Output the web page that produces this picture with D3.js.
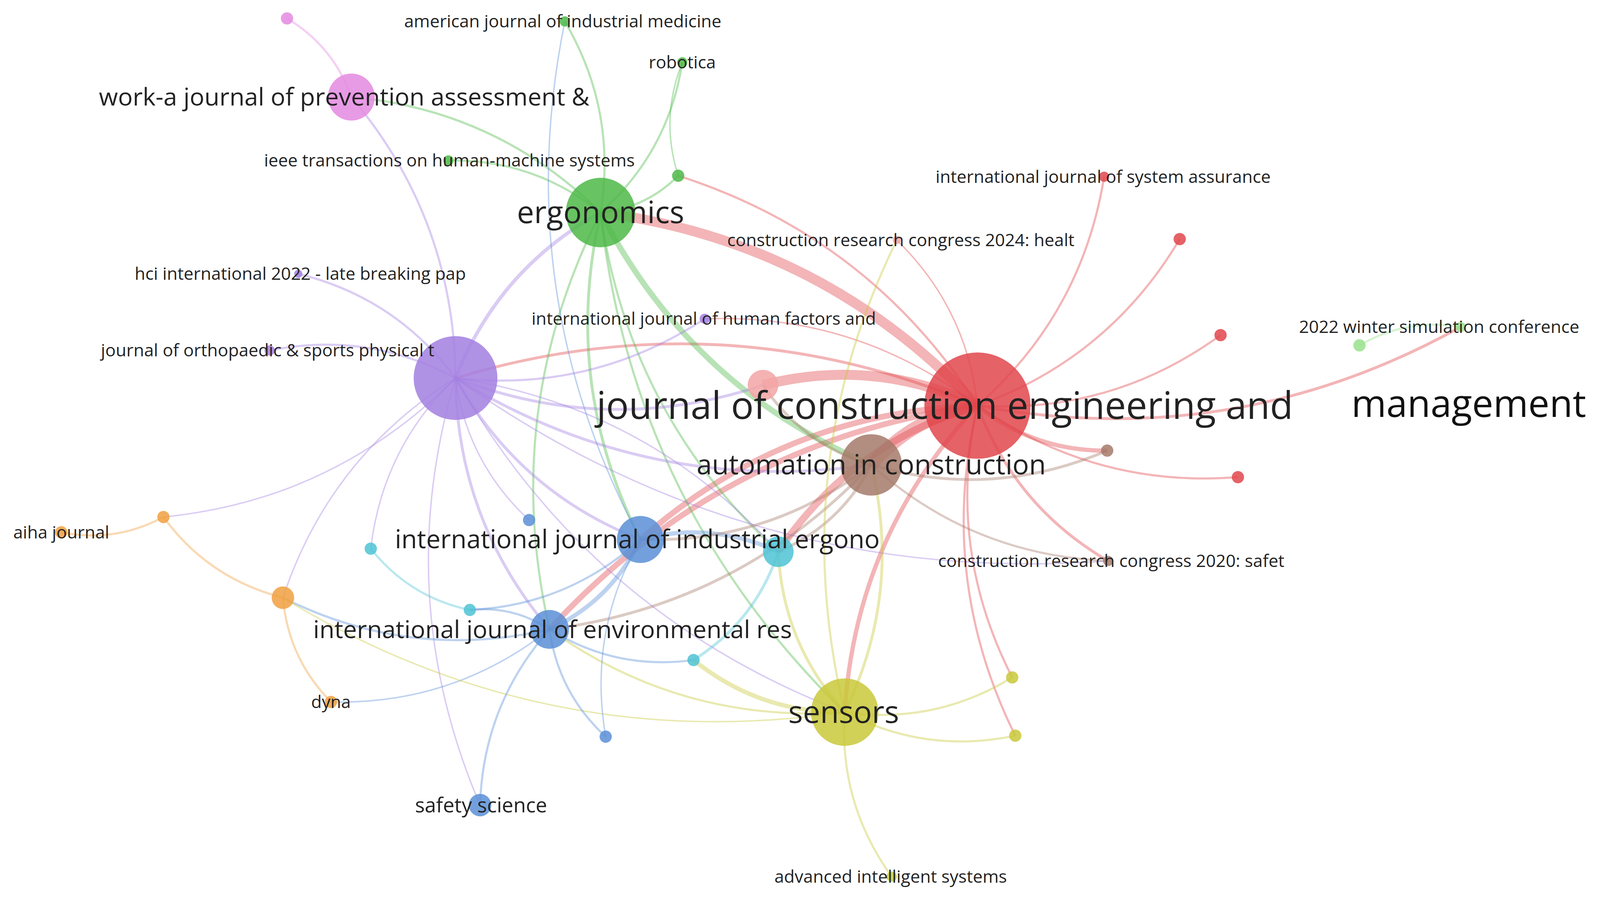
<!DOCTYPE html>
<html><head><meta charset="utf-8">
<script src="https://cdn.jsdelivr.net/npm/d3@7"></script>
<style>body{margin:0;background:#fff}svg{display:block}</style>
</head><body>
<div id="graph"></div>
<script>
const W = 4215, H = 2357;
const colors = {
  red: '#e0474c', green: '#4db848', blue: '#5b8fd6', yellow: '#c9c83a', purple: '#a27fe0',
  cyan: '#4fc3d4', orange: '#f0a040', brown: '#a57a6a', pink: '#e48ae0', lgreen: '#99e08c', lpink: '#f2a4a4'
};

// id, x, y, radius, cluster, label, font size (in reference display units)
const nodeIds = ['jcem','acon','ergo','purp','work','pk1','ajim','robo','ieee','g10','hci','jos','ihf','lpk',
  'sysa','r16','crc24','r18','wsc','wsc2','br20','r21','crc20','ijie','cy1','bl1','cy2','aiha','or1','or2',
  'ijer','cy3','cy4','dyna','sens','y1','y2','bl2','safe','adv'];
const nodeX = [957,853,588,446,344,281,553,668,439,664,292,264,690,747,1081,1155,878,1195,1430,1331,1084,1212,1085,627,762,518,363,60,160,277,538,460,679,324,827,991,994,593,470,873];
const nodeY = [397,455,208,370,95,18,21,61,157,172,268,343,312,377,173,234,235,328,320,338,441,467,549,528,540,509,537,521,506,585,616,597,646,687,697,663,720,721,788,858];
const nodeR = [52,30,34,41,23,6,5,5,5,6,4,5,5,15,5,6,4,6,5,6,6,6,5,23,15,6,6,6,6,11,19,6,6,6,33,6,6,6,11,5];
const nodeCluster = ['red','brown','green','purple','pink','pink','green','green','green','green','purple','purple','purple','lpink',
  'red','red','lpink','red','lgreen','lgreen','brown','red','brown','blue','cyan','blue','cyan','orange','orange','orange',
  'blue','cyan','cyan','orange','yellow','yellow','yellow','blue','blue','yellow'];
const nodeLabel = ['journal of construction engineering and','automation in construction','ergonomics','','work-a journal of prevention assessment &','',
  'american journal of industrial medicine','robotica','ieee transactions on human-machine systems','','hci international 2022 - late breaking pap',
  'journal of orthopaedic & sports physical t','international journal of human factors and','','international journal of system assurance','',
  'construction research congress 2024: healt','','2022 winter simulation conference','','','','construction research congress 2020: safet',
  'international journal of industrial ergono','','','','aiha journal','','','international journal of environmental res','','','dyna',
  'sensors','','','','safety science','advanced intelligent systems'];
const labelX = [925,853,588,446,337,0,551,668,440,0,294,262,689,0,1080,0,882,0,1409,0,0,0,1088,624,0,0,0,60,0,0,541,0,0,324,826,0,0,0,471,872];
const labelSize = [37,27,30,0,24,0,17,17,17,0,17,17,17,0,17,0,17,0,17,0,0,0,17,25,0,0,0,17,0,0,24,0,0,17,30,0,0,0,20,17];

// source, target, weight
const links = [
  ['jcem','acon',9],['jcem','ergo',7],['jcem','lpk',7],['jcem','ijie',4],['jcem','cy1',5],['jcem','sens',3],['jcem','purp',2],
  ['jcem','sysa',1.5],['jcem','r16',1.5],['jcem','r18',1.5],['jcem','r21',1.5],['jcem','crc24',1],['jcem','wsc',2],['jcem','crc20',2],
  ['jcem','br20',3],['jcem','ijer',4],['jcem','y1',1.5],['jcem','y2',1.5],['jcem','ihf',1],['jcem','g10',1.5],
  ['ergo','ajim',1.5],['ergo','robo',1.5],['ergo','ieee',1.5],['ergo','g10',1.5],['ergo','work',1.5],['ergo','purp',2.5],
  ['ergo','ijie',2],['ergo','ijer',1.5],['ergo','acon',4],['ergo','sens',1.5],['ergo','cy1',1.5],['robo','g10',1],['ajim','ijie',1],
  ['purp','jos',1.5],['purp','hci',1.5],['purp','ihf',1.5],['purp','work',1.5],['purp','ijie',2],['purp','ijer',2],['purp','acon',2],
  ['purp','lpk',2],['purp','or2',1],['purp','cy2',1],['purp','safe',1],['purp','bl1',1],['purp','sens',1],['purp','crc20',1],
  ['aiha','or1',1.5],['or1','or2',1.5],['or2','dyna',1.5],['or2','ijer',1.5],['or1','purp',1],['dyna','ijer',1],['or2','sens',1],
  ['ijer','safe',1.5],['ijer','bl2',1.5],['ijer','cy3',1.5],['ijer','cy4',1.5],['ijer','sens',1.5],['ijer','ijie',3],['ijer','acon',2],
  ['cy2','cy3',1.5],['cy3','ijie',1.5],['cy4','cy1',2],['cy4','sens',3],['cy1','sens',2],['cy1','acon',2],['cy1','ijie',3],['cy1','purp',1],
  ['sens','y1',1.5],['sens','y2',1.5],['sens','adv',1.5],['sens','acon',2],['ijie','acon',2],['ijie','bl2',1],
  ['wsc','wsc2',1.5],['work','pk1',1.5],['acon','crc20',1.5],['acon','br20',2],['lpk','acon',2],['crc24','sens',1.5]
];

// reference display units -> page pixels
const sx = W / 1612;
const nodes = new Map(nodeIds.map((id, i) => [id, {
  id, x: nodeX[i] * sx, y: nodeY[i] * sx, r: nodeR[i] * sx, c: colors[nodeCluster[i]],
  label: nodeLabel[i], lx: labelX[i] * sx, fs: labelSize[i] * sx
}]));

const svg = d3.select('#graph').append('svg').attr('width', W).attr('height', H);
const linkGroup = svg.append('g');
const nodeGroup = svg.append('g');
const labelGroup = svg.append('g');

function arc(d) {
  const s = nodes.get(d[0]), t = nodes.get(d[1]);
  const mx = (s.x + t.x) / 2, my = (s.y + t.y) / 2;
  const dx = t.x - s.x, dy = t.y - s.y;
  const k = 0.18;
  const path = d3.path();
  path.moveTo(s.x, s.y);
  path.quadraticCurveTo(mx - dy * k, my + dx * k, t.x, t.y);
  return path.toString();
}

linkGroup.selectAll('path')
  .data(links)
  .join('path')
  .attr('d', arc)
  .attr('fill', 'none')
  .attr('stroke', d => {
    const s = nodes.get(d[0]), t = nodes.get(d[1]);
    return (s.r >= t.r) ? s.c : t.c;
  })
  .attr('stroke-opacity', 0.4)
  .attr('stroke-width', d => d[2] * 1.4 * sx);

nodeGroup.selectAll('circle')
  .data(Array.from(nodes.values()))
  .join('circle')
  .attr('cx', d => d.x).attr('cy', d => d.y).attr('r', d => d.r)
  .attr('fill', d => d.c).attr('fill-opacity', 0.85);

labelGroup.selectAll('text')
  .data(Array.from(nodes.values()).filter(d => d.label))
  .join('text')
  .attr('x', d => d.lx).attr('y', d => d.y)
  .attr('dy', '0.35em')
  .attr('text-anchor', 'middle')
  .attr('font-family', '"Open Sans", sans-serif')
  .attr('font-size', d => d.fs)
  .attr('fill', '#222')
  .text(d => d.label);

labelGroup.append('text')
  .attr('x', 1438 * sx).attr('y', 395 * sx).attr('dy', '0.35em')
  .attr('text-anchor', 'middle')
  .attr('font-family', '"Open Sans", sans-serif')
  .attr('font-size', 37 * sx)
  .attr('fill', '#111')
  .text('management');
</script>
</body></html>
